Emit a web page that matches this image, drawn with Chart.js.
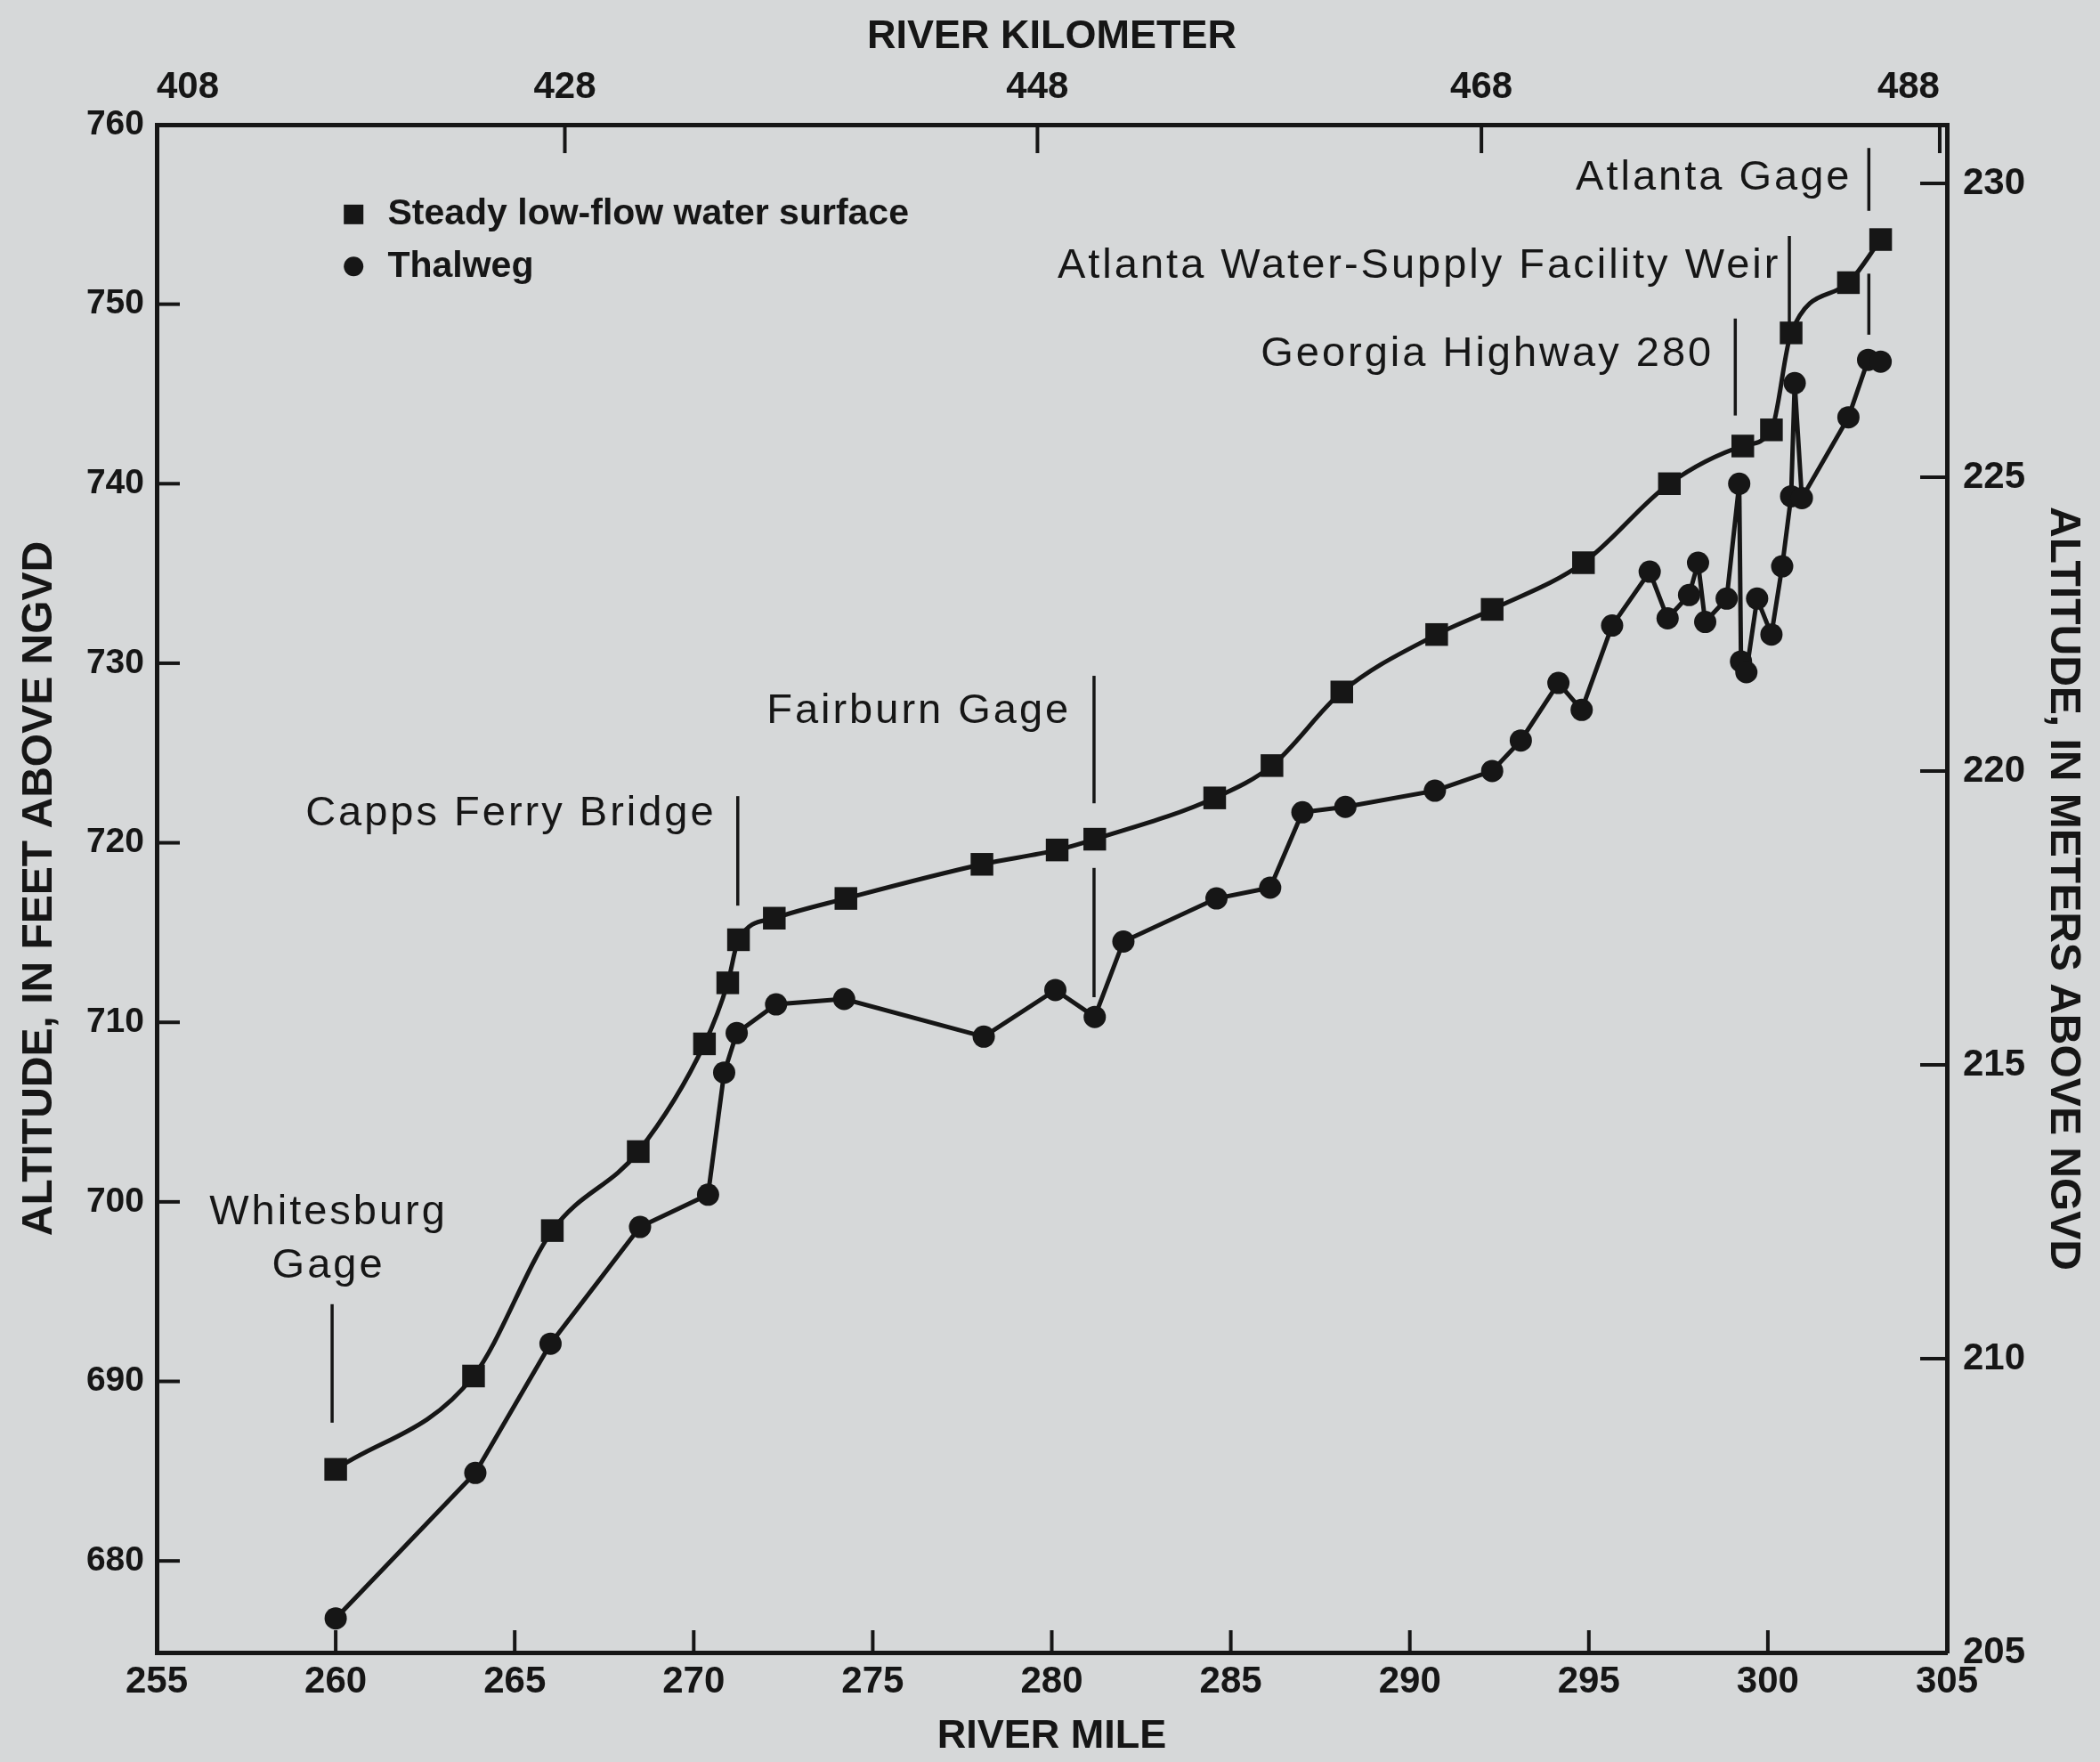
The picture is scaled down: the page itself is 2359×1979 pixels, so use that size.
<!DOCTYPE html>
<html>
<head>
<meta charset="utf-8">
<script src="https://cdn.jsdelivr.net/npm/chart.js@4.4.0/dist/chart.umd.min.js"></script>
<style>
  html, body { margin: 0; padding: 0; background: #d6d8d9; }
  #wrap { width: 2359px; height: 1979px; }
</style>
</head>
<body>
<div id="wrap"><canvas id="mycanvas" width="2359" height="1979"></canvas></div>
<script>
// steady low-flow water surface (river mile, altitude ft)
var surfaceMiles = [260.0, 263.85, 266.05, 268.45, 270.3, 270.95, 271.25, 272.25, 274.25, 278.05, 280.15, 281.2,
                    284.55, 286.15, 288.1, 290.75, 292.3, 294.85, 297.25, 299.3, 300.1, 300.65, 302.25, 303.15];
var surfaceFt = [685.1, 690.3, 698.4, 702.8, 708.8, 712.2, 714.6, 715.8, 716.9, 718.8, 719.6, 720.2,
                 722.5, 724.3, 728.4, 731.6, 733.0, 735.6, 740.0, 742.1, 743.0, 748.4, 751.2, 753.6];

// thalweg
var thalwegMiles = [260.0, 263.9, 266.0, 268.5, 270.4, 270.85, 271.2, 272.3, 274.2, 278.1, 280.1, 281.2,
                    282.0, 284.6, 286.1, 287.0, 288.2, 290.7, 292.3, 293.1, 294.15, 294.8, 295.65, 296.7,
                    297.2, 297.8, 298.05, 298.25, 298.85, 299.2, 299.25, 299.4, 299.7, 300.1, 300.4, 300.65,
                    300.75, 300.95, 302.25, 302.8, 303.15];
var thalwegFt = [676.8, 684.9, 692.1, 698.6, 700.4, 707.2, 709.4, 711.0, 711.3, 709.2, 711.8, 710.3,
                 714.5, 716.9, 717.5, 721.7, 722.0, 722.9, 724.0, 725.7, 728.9, 727.4, 732.1, 735.1,
                 732.5, 733.8, 735.6, 732.3, 733.6, 740.0, 730.1, 729.5, 733.6, 731.6, 735.4, 739.3,
                 745.6, 739.2, 743.7, 746.9, 746.8];

// axis ticks
var mileTicks = [255, 260, 265, 270, 275, 280, 285, 290, 295, 300, 305];
var kmTickMiles = [255, 266.4, 279.6, 292.0, 304.8];
var kmTickLabels = ['408', '428', '448', '468', '488'];
var feetTicks = [680, 690, 700, 710, 720, 730, 740, 750, 760];
var meterTicks = [205, 210, 215, 220, 225, 230];

// site labels along the river
var sites = [
  { text: ['Whitesburg', 'Gage'], mile: 259.8, ft: [699.4, 696.4], align: 'center', lineMile: 259.9, lines: [[687.7, 694.3]] },
  { text: ['Capps Ferry Bridge'], mile: 270.63, ft: [721.6], align: 'right', lineMile: 271.23, lines: [[716.5, 722.6]] },
  { text: ['Fairburn Gage'], mile: 280.54, ft: [727.3], align: 'right', lineMile: 281.18, lines: [[722.2, 729.3], [711.4, 718.6]] },
  { text: ['Georgia Highway 280'], mile: 298.49, ft: [747.2], align: 'right', lineMile: 299.09, lines: [[743.8, 749.2]] },
  { text: ['Atlanta Water-Supply Facility Weir'], mile: 300.36, ft: [752.1], align: 'right', lineMile: 300.6, lines: [[748.8, 753.8]] },
  { text: ['Atlanta Gage'], mile: 302.35, ft: [757.0], align: 'right', lineMile: 302.82, lines: [[755.2, 758.7], [748.3, 751.7]] }
];

var ink = '#161616';
var paper = '#d6d8d9';
var fontFamily = "'Liberation Sans', Arial, Helvetica, sans-serif";

function toPoints(xs, ys) {
  var pts = [];
  for (var i in xs) {
    pts.push({ x: xs[i], y: ys[i] });
  }
  return pts;
}

function setTicks(values) {
  return function(scale) {
    scale.ticks = values.map(function(v) { return { value: v }; });
  };
}

var paperPlugin = {
  id: 'paper',
  beforeDraw: function(chart) {
    var ctx = chart.ctx;
    ctx.save();
    ctx.fillStyle = paper;
    ctx.fillRect(0, 0, chart.width, chart.height);
    ctx.restore();
  },
  afterDraw: function(chart) {
    var ctx = chart.ctx;
    var area = chart.chartArea;
    var sx = chart.scales.x, sx2 = chart.scales.x2, sy = chart.scales.y, sy2 = chart.scales.y2;
    ctx.save();
    ctx.strokeStyle = ink;
    ctx.fillStyle = ink;

    // inward tick marks
    ctx.lineWidth = 4;
    mileTicks.forEach(function(v) {
      var p = sx.getPixelForValue(v);
      ctx.beginPath(); ctx.moveTo(p, area.bottom); ctx.lineTo(p, area.bottom - 25); ctx.stroke();
    });
    kmTickMiles.forEach(function(v) {
      var p = sx2.getPixelForValue(v);
      ctx.beginPath(); ctx.moveTo(p, area.top); ctx.lineTo(p, area.top + 32); ctx.stroke();
    });
    feetTicks.forEach(function(v) {
      var p = sy.getPixelForValue(v);
      ctx.beginPath(); ctx.moveTo(area.left, p); ctx.lineTo(area.left + 26, p); ctx.stroke();
    });
    meterTicks.forEach(function(v) {
      var p = sy2.getPixelForValue(v);
      ctx.beginPath(); ctx.moveTo(area.right, p); ctx.lineTo(area.right - 30, p); ctx.stroke();
    });

    // site labels
    ctx.font = '47px ' + fontFamily;
    ctx.letterSpacing = '3px';
    ctx.textBaseline = 'middle';
    ctx.lineWidth = 3.5;
    sites.forEach(function(s) {
      ctx.textAlign = s.align;
      var tx = sx.getPixelForValue(s.mile);
      s.text.forEach(function(t, i) {
        ctx.fillText(t, tx, sy.getPixelForValue(s.ft[i]));
      });
      var lx = sx.getPixelForValue(s.lineMile);
      s.lines.forEach(function(seg) {
        ctx.beginPath();
        ctx.moveTo(lx, sy.getPixelForValue(seg[0]));
        ctx.lineTo(lx, sy.getPixelForValue(seg[1]));
        ctx.stroke();
      });
    });

    // legend
    ctx.letterSpacing = '0px';
    ctx.font = 'bold 41px ' + fontFamily;
    ctx.textAlign = 'left';
    var mx = sx.getPixelForValue(260.5);
    var tx = sx.getPixelForValue(261.45);
    var y1 = sy.getPixelForValue(755.0);
    var y2 = sy.getPixelForValue(752.1);
    ctx.fillRect(mx - 11, y1 - 11, 22, 22);
    ctx.fillText(chart.data.datasets[0].label, tx, y1);
    ctx.beginPath(); ctx.arc(mx, y2, 11, 0, Math.PI * 2); ctx.fill();
    ctx.fillText(chart.data.datasets[1].label, tx, y2);
    ctx.restore();
  }
};

var tickFont = { family: fontFamily, size: 42, weight: 'bold' };
var titleFont = { family: fontFamily, size: 45, weight: 'bold' };
var sideTitleFont = { family: fontFamily, size: 48, weight: 'bold' };
var axisBorder = { display: true, color: ink, width: 5 };

var ctx = document.getElementById('mycanvas');
var profile = new Chart(ctx, {
  type: 'line',
  data: {
    datasets: [
      {
        label: 'Steady low-flow water surface',
        data: toPoints(surfaceMiles, surfaceFt),
        xAxisID: 'x', yAxisID: 'y',
        borderColor: ink,
        borderWidth: 5,
        backgroundColor: ink,
        pointStyle: 'rect',
        pointRadius: 18,
        pointBorderWidth: 0,
        pointBackgroundColor: ink,
        cubicInterpolationMode: 'monotone',
        fill: false
      },
      {
        label: 'Thalweg',
        data: toPoints(thalwegMiles, thalwegFt),
        xAxisID: 'x', yAxisID: 'y',
        borderColor: ink,
        borderWidth: 5,
        backgroundColor: ink,
        pointStyle: 'circle',
        pointRadius: 12.5,
        pointBorderWidth: 0,
        pointBackgroundColor: ink,
        tension: 0,
        fill: false
      }
    ]
  },
  options: {
    responsive: false,
    animation: false,
    devicePixelRatio: 1,
    layout: { padding: 0 },
    plugins: {
      legend: { display: false },
      tooltip: { enabled: false }
    },
    scales: {
      x: {
        type: 'linear', position: 'bottom', min: 255, max: 305,
        afterBuildTicks: setTicks(mileTicks),
        afterFit: function(scale) { scale.height = 123; },
        grid: { display: false, drawTicks: false },
        border: axisBorder,
        ticks: { color: ink, font: tickFont, padding: 8, autoSkip: false, maxRotation: 0 },
        title: { display: true, text: 'RIVER MILE', color: ink, font: titleFont, padding: { top: 0, bottom: 1 } }
      },
      x2: {
        type: 'linear', position: 'top', min: 255, max: 305,
        afterBuildTicks: setTicks(kmTickMiles),
        afterFit: function(scale) { scale.height = 140; },
        grid: { display: false, drawTicks: false },
        border: axisBorder,
        ticks: {
          color: ink, font: tickFont, padding: 16, autoSkip: false, maxRotation: 0, align: 'inner',
          callback: function(value, index) { return kmTickLabels[index]; }
        },
        title: { display: true, text: 'RIVER KILOMETER', color: ink, font: titleFont, padding: { top: 15, bottom: 0 } }
      },
      y: {
        type: 'linear', position: 'left', min: 674.9, max: 760,
        afterBuildTicks: setTicks(feetTicks),
        afterFit: function(scale) { scale.width = 176; },
        grid: { display: false, drawTicks: false },
        border: axisBorder,
        ticks: { color: ink, font: { family: fontFamily, size: 39, weight: 'bold' }, padding: 14, autoSkip: false },
        title: { display: true, text: 'ALTITUDE, IN FEET ABOVE NGVD', color: ink, font: sideTitleFont, padding: { top: 16, bottom: 0 } }
      },
      y2: {
        type: 'linear', position: 'right', min: 205, max: 231,
        afterBuildTicks: setTicks(meterTicks),
        afterFit: function(scale) { scale.width = 172; },
        grid: { display: false, drawTicks: false },
        border: axisBorder,
        ticks: { color: ink, font: tickFont, padding: 18, autoSkip: false },
        title: { display: true, text: 'ALTITUDE, IN METERS ABOVE NGVD', color: ink, font: sideTitleFont, padding: { top: 13, bottom: 0 } }
      }
    }
  },
  plugins: [paperPlugin]
});
</script>
</body>
</html>
